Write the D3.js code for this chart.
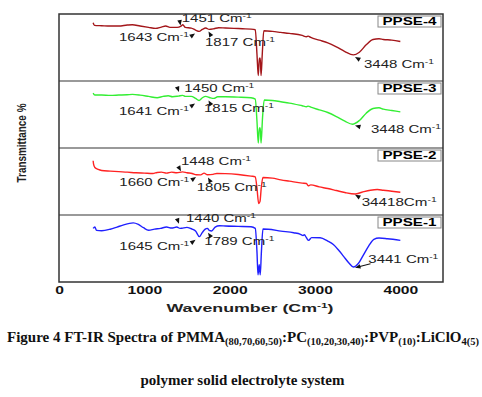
<!DOCTYPE html>
<html>
<head>
<meta charset="utf-8">
<script src="https://cdn.jsdelivr.net/npm/d3@7"></script>
<style>
  body { margin: 0; background: #fff; }
  svg { display: block; }
</style>
</head>
<body>
<svg width="482" height="397"></svg>
<script>
// series, top panel first
var seriesNames = ['PPSE-4', 'PPSE-3', 'PPSE-2', 'PPSE-1'];
var seriesColors = ['#a3161a', '#33ee33', '#ff2222', '#2020ff'];

// [wavenumber, transmittance %]
var ppse4 = [[400, 87], [415, 83], [500, 82.5], [600, 82], [700, 82], [800, 83.5], [860, 84], [950, 82], [1050, 80],
  [1130, 78.5], [1200, 80.5], [1250, 82], [1300, 80], [1385, 80], [1430, 82], [1451, 84], [1480, 80], [1550, 79],
  [1600, 76], [1643, 74], [1680, 77], [1720, 79], [1760, 77], [1817, 78], [1870, 79.5], [1950, 79], [2050, 78.5],
  [2150, 78], [2250, 77.5], [2300, 76.5], [2320, 40], [2335, 8], [2348, 34], [2358, 34], [2368, 8], [2382, 40],
  [2400, 75], [2500, 74], [2600, 72.5], [2700, 71], [2850, 68], [2900, 66], [2920, 67], [2950, 65], [3050, 61],
  [3150, 57], [3250, 51], [3350, 44], [3450, 39], [3520, 43], [3600, 54], [3680, 62], [3750, 63], [3800, 62],
  [3900, 61], [4000, 59]];

var ppse3 = [[400, 82], [420, 79], [500, 79], [600, 78.5], [700, 79], [800, 79.5], [860, 80], [950, 79], [1050, 77],
  [1150, 75], [1220, 77], [1280, 78], [1330, 76.5], [1400, 77.5], [1450, 78.5], [1480, 77], [1550, 77], [1600, 74],
  [1641, 71], [1680, 75], [1720, 77], [1770, 75], [1815, 74], [1860, 76.5], [1950, 76.5], [2100, 76], [2250, 75],
  [2300, 73], [2320, 40], [2335, 7.5], [2348, 30], [2358, 30], [2368, 7.5], [2385, 45], [2405, 71.6], [2500, 71],
  [2600, 69], [2700, 67], [2850, 63], [2900, 61.6], [2920, 62.5], [2950, 61], [3050, 57], [3150, 53], [3250, 47],
  [3350, 40], [3440, 35.4], [3520, 41], [3600, 52], [3680, 59], [3750, 60], [3800, 58], [3900, 56], [4000, 54]];

var ppse2 = [[400, 81], [405, 76], [420, 71], [460, 68], [500, 66.5], [600, 65.5], [700, 64.7], [800, 64], [900, 63],
  [1000, 62.5], [1100, 62], [1150, 63.5], [1200, 64], [1260, 62.5], [1320, 64], [1380, 63], [1448, 64.3], [1500, 63],
  [1560, 62], [1610, 60], [1660, 59.9], [1700, 62.5], [1740, 60], [1805, 60.7], [1850, 62], [1950, 61.8], [2100, 60.5],
  [2250, 58], [2300, 57], [2320, 40], [2340, 17], [2355, 20], [2370, 40], [2390, 56], [2500, 55], [2600, 52.5],
  [2700, 50.5], [2850, 47.5], [2900, 47], [2920, 43.7], [2950, 45], [3050, 42], [3150, 39.5], [3250, 36.5],
  [3350, 33.5], [3470, 31.3], [3550, 34], [3650, 37], [3730, 38], [3800, 37], [3900, 35.5], [4000, 34]];

var ppse1 = [[400, 80], [420, 82], [440, 77], [500, 76.5], [600, 78.8], [680, 82], [750, 85], [870, 88.3], [930, 86],
  [990, 81], [1050, 77.3], [1120, 79], [1190, 80], [1260, 82], [1320, 80.5], [1380, 82], [1420, 80], [1440, 80.3],
  [1500, 81.5], [1560, 79], [1600, 76], [1645, 67.7], [1680, 74], [1710, 78.5], [1740, 80], [1760, 77], [1789, 76.2],
  [1830, 82], [1880, 84], [1950, 83.5], [2100, 83], [2250, 82.5], [2300, 80], [2320, 45], [2332, 10.6], [2346, 25.8],
  [2358, 10.6], [2372, 45], [2390, 79], [2450, 78.8], [2600, 76], [2750, 73.5], [2830, 71.2], [2860, 69.5],
  [2875, 70.5], [2900, 66], [2925, 62.1], [2960, 66.2], [3060, 66], [3150, 61], [3215, 56], [3280, 47], [3335, 38.3],
  [3400, 28], [3450, 22.3], [3510, 28], [3570, 41], [3630, 54], [3690, 63.6], [3750, 65.6], [3850, 64.5], [4000, 62.1]];

// peak labels: [text, text wavenumber, text %, arrow tip wavenumber, arrow tip %, arrow angle, tail]
var peaks4 = [['1451 Cm', 1438, 88.5, 1424, 82.8, 80, 0], ['1643 Cm', 703, 60.1, 1594, 70.9, -35, 0],
  ['1817 Cm', 1711, 52.7, 1752, 73.9, -120, 0], ['3448 Cm', 3574, 19, 3469, 35.8, -150, 0]];
var peaks3 = [['1450 Cm', 1468, 84, 1406, 83.6, 70, 0], ['1641 Cm', 703, 49.3, 1594, 66.4, -35, 0],
  ['1815 Cm', 1699, 53.3, 1752, 70.9, -120, 0], ['3448 Cm', 3656, 21.9, 3469, 33.6, -165, 0]];
var peaks2 = [['1448 Cm', 1430, 75, 1430, 65.4, 60, 0], ['1660 Cm', 707, 43.1, 1606, 56.6, -35, 0],
  ['1805 Cm', 1614, 35.7, 1746, 55.9, -120, 0], ['34418Cm', 3547, 13.7, 3469, 30.1, -150, 0]];
var peaks1 = [['1440 Cm', 1488, 88.9, 1406, 87.1, 70, 0], ['1645 Cm', 707, 48.5, 1600, 62.9, -35, 0],
  ['1789 Cm', 1703, 55, 1746, 73.5, -125, 0], ['3441 Cm', 3625, 28.3, 3469, 21.2, 165, 12]];

var xTicks = [0, 1000, 2000, 3000, 4000];

var spectra = [ppse4, ppse3, ppse2, ppse1];
var peaks = [peaks4, peaks3, peaks2, peaks1];

var svg = d3.select('svg');
var sans = 'Liberation Sans, Arial, sans-serif';
var serif = 'Liberation Serif, Times New Roman, serif';

var plotLeft = 59, plotRight = 443, plotTop = 14, panelH = 67;
var plotBottom = plotTop + panelH * spectra.length;

var x = d3.scaleLinear().domain([0, 4500]).range([plotLeft, plotRight]);

spectra.forEach(function(data, i) {
  var top = plotTop + i * panelH;
  var y = d3.scaleLinear().domain([0, 100]).range([top + panelH, top]);

  if (i > 0) {
    svg.append('line')
      .attr('x1', plotLeft).attr('x2', plotRight)
      .attr('y1', top).attr('y2', top)
      .attr('stroke', '#777').attr('stroke-width', 1.3);
  }

  var line = d3.line()
    .x(function(d) { return x(d[0]); })
    .y(function(d) { return y(d[1]); })
    .curve(d3.curveMonotoneX);

  svg.append('path')
    .datum(data)
    .attr('d', line)
    .attr('fill', 'none')
    .attr('stroke', seriesColors[i])
    .attr('stroke-width', 1.4)
    .attr('stroke-linejoin', 'round');

  // legend box
  svg.append('rect')
    .attr('x', 378).attr('y', top + 2)
    .attr('width', 63).attr('height', 11)
    .attr('fill', '#fff').attr('stroke', '#888').attr('stroke-width', 1);
  svg.append('text')
    .attr('x', 409.5).attr('y', top + 11)
    .attr('text-anchor', 'middle')
    .attr('font-family', sans).attr('font-weight', 'bold').attr('font-size', 10)
    .attr('textLength', 54).attr('lengthAdjust', 'spacingAndGlyphs')
    .text(seriesNames[i]);

  // peak labels
  peaks[i].forEach(function(p) {
    var t = svg.append('text')
      .attr('x', x(p[1])).attr('y', y(p[2]))
      .attr('font-family', sans).attr('font-size', 11).attr('fill', '#222')
      .attr('textLength', p[0].indexOf(' ') < 0 ? 75 : 70)
      .attr('lengthAdjust', 'spacingAndGlyphs');
    t.append('tspan').text(p[0]);
    t.append('tspan').attr('dy', -4).attr('font-size', 7.5).text('-1');

    var tx = x(p[3]), ty = y(p[4]);
    var g = svg.append('g').attr('transform', 'translate(' + tx + ',' + ty + ') rotate(' + p[5] + ')');
    g.append('path').attr('d', 'M0,0L-5.5,-2.3L-5.5,2.3Z').attr('fill', '#111');
    if (p[6]) {
      g.append('line').attr('x1', -4).attr('x2', -4 - p[6]).attr('y1', 0).attr('y2', 0)
        .attr('stroke', '#111').attr('stroke-width', 1);
    }
  });
});

// frame
svg.append('rect')
  .attr('x', plotLeft).attr('y', plotTop)
  .attr('width', plotRight - plotLeft).attr('height', plotBottom - plotTop)
  .attr('fill', 'none').attr('stroke', '#333').attr('stroke-width', 1.5);

// x axis
var xAxis = svg.append('g')
  .attr('transform', 'translate(0,' + plotBottom + ')')
  .call(d3.axisBottom(x).tickValues(xTicks).tickSize(0).tickFormat(d3.format('d')));
xAxis.select('.domain').remove();
xAxis.selectAll('text')
  .attr('y', 5).attr('dy', '0.71em')
  .attr('font-family', sans).attr('font-weight', 'bold').attr('font-size', 10.5)
  .attr('fill', '#111')
  .attr('textLength', function(d) { return String(d).length * 8.7; })
  .attr('lengthAdjust', 'spacingAndGlyphs');

var xTitle = svg.append('text')
  .attr('x', 250).attr('y', 311.5)
  .attr('text-anchor', 'middle')
  .attr('font-family', sans).attr('font-weight', 'bold').attr('font-size', 10.5).attr('fill', '#222')
  .attr('textLength', 167).attr('lengthAdjust', 'spacingAndGlyphs');
xTitle.append('tspan').text('Wavenumber (Cm');
xTitle.append('tspan').attr('dy', -4).attr('font-size', 7).text('-1');
xTitle.append('tspan').attr('dy', 4).text(')');

// y axis title
svg.append('text')
  .attr('transform', 'translate(26,143) rotate(-90)')
  .attr('text-anchor', 'middle')
  .attr('font-family', sans).attr('font-weight', 'bold').attr('font-size', 13).attr('fill', '#222')
  .attr('textLength', 79).attr('lengthAdjust', 'spacingAndGlyphs')
  .text('Transmittance %');

// caption, stretched to the width it has in the picture
var cap = svg.append('text')
  .attr('x', 0).attr('y', 0)
  .attr('font-family', serif).attr('font-weight', 'bold').attr('font-size', 15).attr('fill', '#111');
var capParts = [['Figure 4 FT-IR Spectra of PMMA', 0], ['(80,70,60,50)', 1], [':PC', 0], ['(10,20,30,40)', 1],
  [':PVP', 0], ['(10)', 1], [':LiClO', 0], ['4(5)', 1]];
var shift = 0;
capParts.forEach(function(s) {
  var want = s[1] ? 3 : 0;
  cap.append('tspan')
    .attr('dy', want - shift)
    .attr('font-size', s[1] ? 10.5 : 15)
    .text(s[0]);
  shift = want;
});
var capW = cap.node().getBBox().width;
cap.attr('transform', 'translate(7,341.5) scale(' + (473 / capW) + ',1)');

svg.append('text')
  .attr('x', 242.5).attr('y', 385)
  .attr('text-anchor', 'middle')
  .attr('font-family', serif).attr('font-weight', 'bold').attr('font-size', 15).attr('fill', '#111')
  .text('polymer solid electrolyte system');
</script>
</body>
</html>
